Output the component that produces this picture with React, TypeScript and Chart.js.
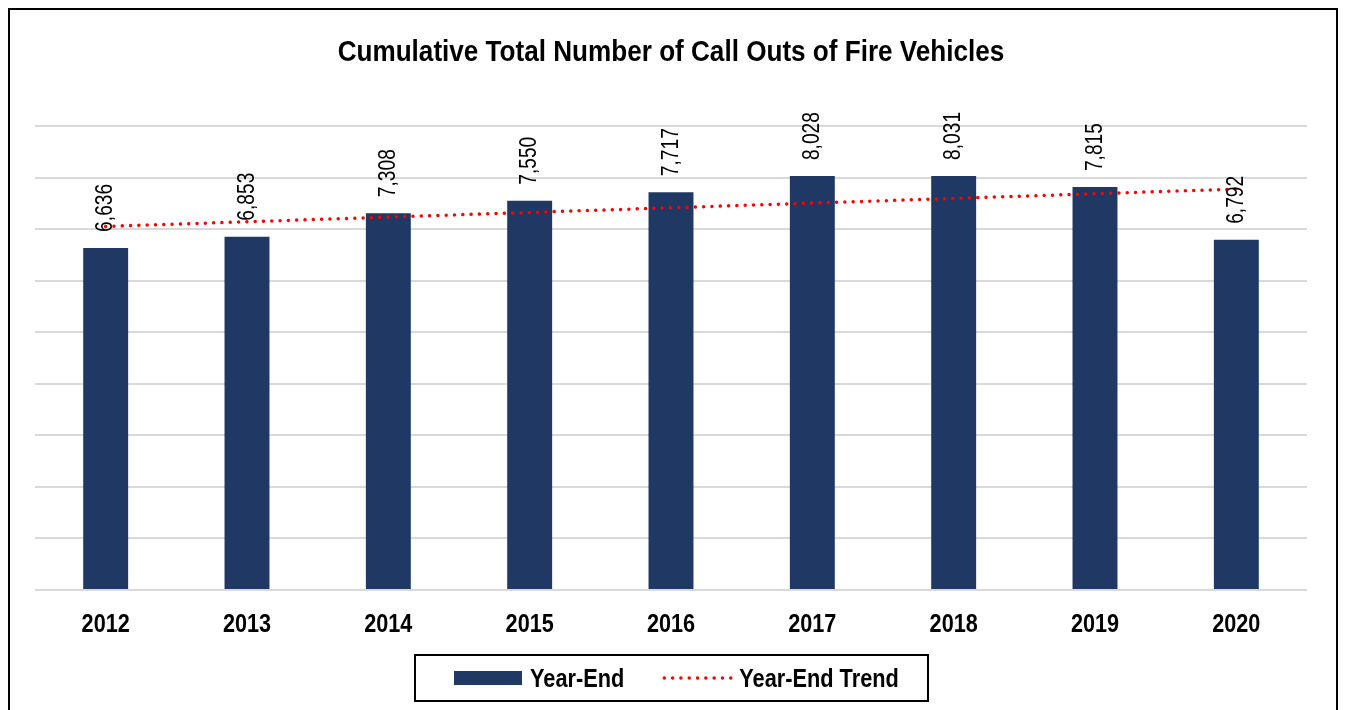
import React, { useEffect, useRef } from "react";
import { Chart, registerables } from "chart.js";

Chart.register(...registerables);

const categories = ["2012", "2013", "2014", "2015", "2016", "2017", "2018", "2019", "2020"];
const yearEnd = [6636, 6853, 7308, 7550, 7717, 8028, 8031, 7815, 6792];
const titleText = "Cumulative Total Number of Call Outs of Fire Vehicles";
const seriesName = "Year-End";
const trendName = "Year-End Trend";

const BAR_COLOR = "#203864";
const TREND_COLOR = "#ff0000";
const FONT = "'Liberation Sans', Arial, sans-serif";

// linear least-squares trend of the Year-End series
function linearTrend(values: number[]): number[] {
  const n = values.length;
  const xs = values.map((_, i) => i);
  const mx = xs.reduce((a, b) => a + b, 0) / n;
  const my = values.reduce((a, b) => a + b, 0) / n;
  let sxy = 0;
  let sxx = 0;
  for (let i = 0; i < n; i++) {
    sxy += (xs[i] - mx) * (values[i] - my);
    sxx += (xs[i] - mx) * (xs[i] - mx);
  }
  const slope = sxy / sxx;
  return xs.map((x) => my + slope * (x - mx));
}

const trendValues = linearTrend(yearEnd);

const fmt = (v: number) => v.toLocaleString("en-US");

// draw text horizontally condensed (to mimic a narrow face)
function narrowText(ctx: any, text: string, x: number, y: number, sx: number, align: "left" | "center") {
  ctx.save();
  ctx.translate(x, y);
  ctx.scale(sx, 1);
  ctx.textAlign = align;
  ctx.fillText(text, 0, 0);
  ctx.restore();
}

const decorPlugin = {
  id: "decor",
  afterDatasetsDraw(chart: any) {
    const ctx = chart.ctx;
    const meta = chart.getDatasetMeta(0);
    ctx.save();
    ctx.fillStyle = "#000";
    ctx.font = `24px ${FONT}`;
    ctx.textBaseline = "middle";
    meta.data.forEach((bar: any, i: number) => {
      ctx.save();
      ctx.translate(bar.x, bar.y - 16);
      ctx.rotate(-Math.PI / 2);
      narrowText(ctx, fmt(yearEnd[i]), 0, 0, 0.8, "left");
      ctx.restore();
    });
    ctx.restore();
  },
  afterDraw(chart: any) {
    const ctx = chart.ctx;
    const xScale = chart.scales.x;
    ctx.save();
    ctx.fillStyle = "#000";

    // title
    ctx.font = `bold 29px ${FONT}`;
    ctx.textBaseline = "alphabetic";
    narrowText(ctx, titleText, 661, 51, 0.9, "center");

    // category labels
    ctx.font = `bold 25px ${FONT}`;
    categories.forEach((c, i) => {
      narrowText(ctx, c, xScale.getPixelForValue(i), 622, 0.865, "center");
    });

    // legend
    ctx.font = `bold 25px ${FONT}`;
    const sx = 0.87;
    const bx = 405;
    const by = 645;
    const boxW = 513;
    const boxH = 46;
    ctx.strokeStyle = "#000";
    ctx.lineWidth = 2;
    ctx.strokeRect(bx, by, boxW, boxH);
    const cy = by + boxH / 2;
    const baseY = cy + 9;
    let x = bx + 39;
    ctx.fillStyle = BAR_COLOR;
    ctx.fillRect(x, cy - 7, 68, 14);
    x += 68 + 8;
    ctx.fillStyle = "#000";
    narrowText(ctx, seriesName, x, baseY, sx, "left");
    x += ctx.measureText(seriesName).width * sx + 39;
    ctx.strokeStyle = TREND_COLOR;
    ctx.lineWidth = 3.5;
    ctx.lineCap = "round";
    ctx.setLineDash([0.01, 8.3]);
    ctx.beginPath();
    ctx.moveTo(x + 1, cy);
    ctx.lineTo(x + 68, cy);
    ctx.stroke();
    ctx.setLineDash([]);
    x += 68 + 8;
    narrowText(ctx, trendName, x, baseY, sx, "left");
    ctx.restore();
  },
};

export default function App() {
  const ref = useRef<HTMLCanvasElement | null>(null);

  useEffect(() => {
    document.documentElement.style.overflow = "hidden";
    document.body.style.overflow = "hidden";
    if (!ref.current) return;
    const chart = new Chart(ref.current, {
      type: "bar",
      data: {
        labels: categories,
        datasets: [
          {
            type: "bar",
            label: seriesName,
            data: yearEnd,
            backgroundColor: BAR_COLOR,
            borderWidth: 0,
            categoryPercentage: 1,
            barPercentage: 0.318,
            order: 2,
          },
          {
            type: "line",
            label: trendName,
            data: trendValues,
            borderColor: TREND_COLOR,
            borderWidth: 3.5,
            borderDash: [0.01, 8.3],
            borderCapStyle: "round",
            pointRadius: 0,
            fill: false,
            tension: 0,
            order: 1,
          } as any,
        ],
      },
      options: {
        responsive: false,
        animation: false,
        devicePixelRatio: 1,
        layout: { padding: { top: 116, left: 25, right: 29, bottom: 120 } },
        plugins: {
          legend: { display: false },
          title: { display: false },
          tooltip: { enabled: false },
        },
        scales: {
          x: {
            grid: { display: false, drawTicks: false },
            border: { display: false },
            ticks: { display: false },
          },
          y: {
            min: 0,
            max: 9000,
            ticks: { display: false, stepSize: 1000 },
            grid: { color: "#d9d9d9", lineWidth: 2, drawTicks: false },
            border: { display: false },
          },
        },
      },
      plugins: [decorPlugin],
    });
    return () => chart.destroy();
  }, []);

  return (
    <div style={{ border: "2px solid #000", height: 720, background: "#fff" }}>
      <canvas ref={ref} width={1326} height={700} style={{ display: "block" }} />
    </div>
  );
}
